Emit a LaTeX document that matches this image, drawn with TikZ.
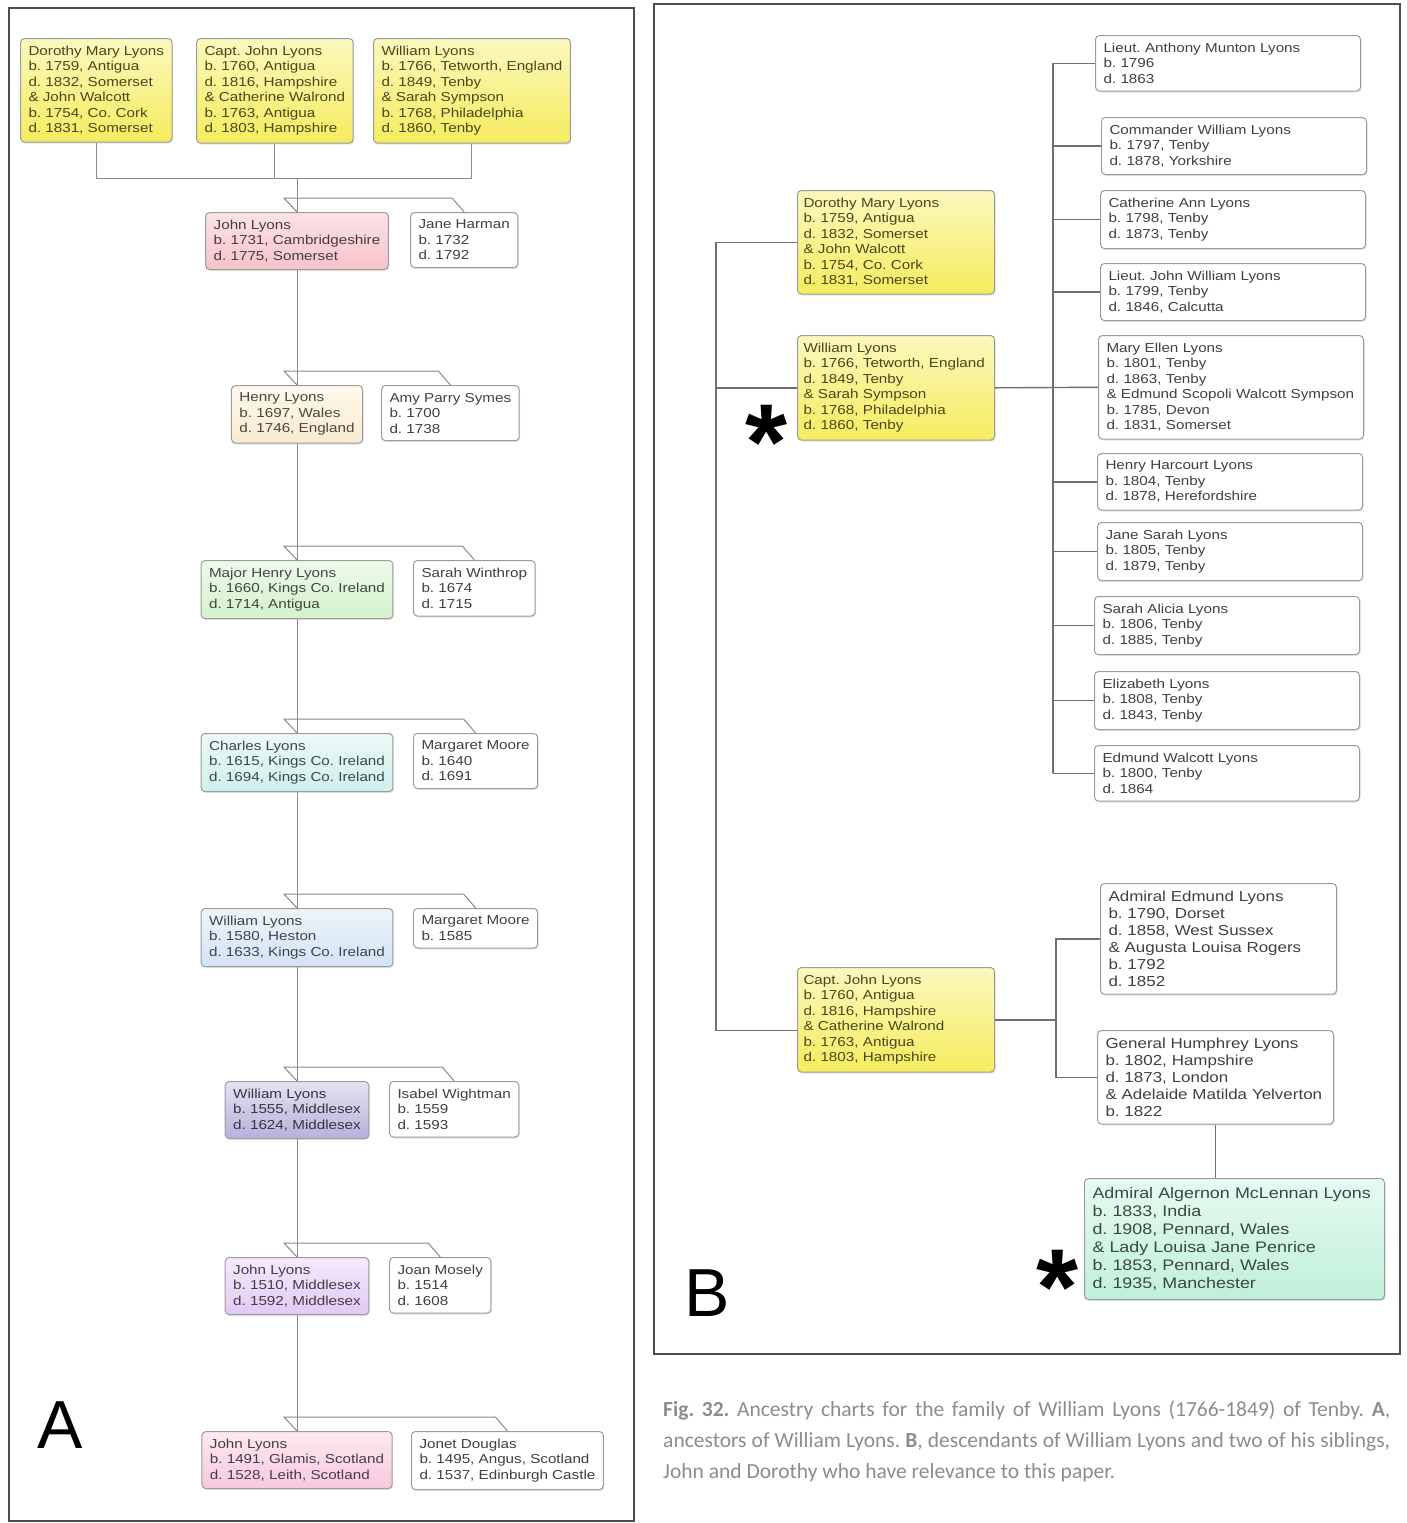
\documentclass[tikz,border=0pt]{standalone}
\usepackage{fontspec}
\setmainfont{Liberation Sans}
\newfontfamily\chartfont[FakeStretch=1.17]{Liberation Sans}
\newfontfamily\capfont{Carlito}
\usetikzlibrary{shadows}

\definecolor{boxline}{HTML}{9C9C9C}
\definecolor{treeA}{HTML}{8A8A8A}
\definecolor{treeB}{HTML}{707070}
\definecolor{framegray}{HTML}{4D4D4D}
\definecolor{captext}{HTML}{8C8C8C}
\definecolor{ylwtop}{HTML}{FBF8BE}\definecolor{ylwbot}{HTML}{F5EC5E}
\definecolor{pnktop}{HTML}{FBE3E6}\definecolor{pnkbot}{HTML}{F7C3CA}
\definecolor{crmtop}{HTML}{FEF8EE}\definecolor{crmbot}{HTML}{FAEBD0}
\definecolor{grntop}{HTML}{EEFAEA}\definecolor{grnbot}{HTML}{D5F1CB}
\definecolor{cyntop}{HTML}{ECF9F7}\definecolor{cynbot}{HTML}{CFF0EC}
\definecolor{blutop}{HTML}{EEF4FB}\definecolor{blubot}{HTML}{D2E3F5}
\definecolor{lavtop}{HTML}{E4E2F3}\definecolor{lavbot}{HTML}{B5B1DA}
\definecolor{prptop}{HTML}{F4EAFC}\definecolor{prpbot}{HTML}{E2C9F4}
\definecolor{rsetop}{HTML}{FDEAF2}\definecolor{rsebot}{HTML}{F7C8DC}
\definecolor{mnttop}{HTML}{E6FAF1}\definecolor{mntbot}{HTML}{C0F0DA}

\frenchspacing
\begin{document}
\begin{tikzpicture}
                [
                x=1pt,y=-1pt,
                person/.style={draw=boxline,line width=1pt,rounded corners=4pt,fill=white,
                  align=left,anchor=north west,inner xsep=8pt,inner ysep=7.5pt,
                  text=black!75,font=\chartfont\fontsize{13}{15.5}\selectfont,
                  drop shadow={shadow xshift=1pt,shadow yshift=-1.5pt,opacity=0.2}},
                heir/.style={person,anchor=north},
                tint/.style 2 args={top color=#1,bottom color=#2,text=#2!30!black},
                kid/.style={person,text width=249pt},
                bigkid/.style={person,text width=220pt,font=\chartfont\fontsize{14.5}{17}\selectfont},
                sibling/.style={person,tint={ylwtop}{ylwbot},text width=185pt,inner xsep=6pt},
                treeA/.style={draw=treeA,line width=1pt},
                treeB/.style={draw=treeB,line width=1.4pt},
                frame/.style={draw=framegray,line width=2.6pt},
                panel/.style={font=\fontsize{68}{68}\selectfont},
                star/.style={font=\bfseries\fontsize{108}{108}\selectfont,inner sep=0pt,anchor=north}
                ]
            \useasboundingbox[fill=white] (0,0) rectangle (1407,1523);
            \draw[frame] (9,8) rectangle (634,1521);
            \draw[frame] (654,4) rectangle (1400,1354);

            % A: ancestors
            \node[person,tint={ylwtop}{ylwbot}] (dorothyA) at (20,38) {Dorothy Mary Lyons\\b. 1759, Antigua\\d. 1832, Somerset\\\& John Walcott\\b. 1754, Co. Cork\\d. 1831, Somerset};
            \node[person,tint={ylwtop}{ylwbot}] (johnA) at (196,38) {Capt. John Lyons\\b. 1760, Antigua\\d. 1816, Hampshire\\\& Catherine Walrond\\b. 1763, Antigua\\d. 1803, Hampshire};
            \node[person,tint={ylwtop}{ylwbot}] (williamA) at (373,38) {William Lyons\\b. 1766, Tetworth, England\\d. 1849, Tenby\\\& Sarah Sympson\\b. 1768, Philadelphia\\d. 1860, Tenby};

            \node[heir,tint={pnktop}{pnkbot}] (john1731) at (297,212) {John Lyons\\b. 1731, Cambridgeshire\\d. 1775, Somerset};
            \node[person] (jane) at (410,212) {Jane Harman\\b. 1732\\d. 1792};
            \node[heir,tint={crmtop}{crmbot}] (henry) at (297,385) {Henry Lyons\\b. 1697, Wales\\d. 1746, England};
            \node[person] (amy) at (381,385) {Amy Parry Symes\\b. 1700\\d. 1738};
            \node[heir,tint={grntop}{grnbot}] (majorhenry) at (297,560) {Major Henry Lyons\\b. 1660, Kings Co. Ireland\\d. 1714, Antigua};
            \node[person] (sarahW) at (413,560) {Sarah Winthrop\\b. 1674\\d. 1715};
            \node[heir,tint={cyntop}{cynbot}] (charles) at (297,733) {Charles Lyons\\b. 1615, Kings Co. Ireland\\d. 1694, Kings Co. Ireland};
            \node[person] (margaret1) at (413,733) {Margaret Moore\\b. 1640\\d. 1691};
            \node[heir,tint={blutop}{blubot}] (william1580) at (297,908) {William Lyons\\b. 1580, Heston\\d. 1633, Kings Co. Ireland};
            \node[person] (margaret2) at (413,908) {Margaret Moore\\b. 1585};
            \node[heir,tint={lavtop}{lavbot}] (william1555) at (297,1081) {William Lyons\\b. 1555, Middlesex\\d. 1624, Middlesex};
            \node[person] (isabel) at (389,1081) {Isabel Wightman\\b. 1559\\d. 1593};
            \node[heir,tint={prptop}{prpbot}] (john1510) at (297,1257) {John Lyons\\b. 1510, Middlesex\\d. 1592, Middlesex};
            \node[person] (joan) at (389,1257) {Joan Mosely\\b. 1514\\d. 1608};
            \node[heir,tint={rsetop}{rsebot}] (john1491) at (297,1431) {John Lyons\\b. 1491, Glamis, Scotland\\d. 1528, Leith, Scotland};
            \node[person] (jonet) at (411,1431) {Jonet Douglas\\b. 1495, Angus, Scotland\\d. 1537, Edinburgh Castle};

            \coordinate (sibs) at (297,178);
            \draw[treeA] (dorothyA.south) |- (sibs) -- (john1731.north);
            \draw[treeA] (sibs) -| (williamA.south);
            \draw[treeA] (johnA.south) -- (johnA.south |- sibs);
            \foreach \up/\down in {john1731/henry,henry/majorhenry,majorhenry/charles,charles/william1580,
                                   william1580/william1555,william1555/john1510,john1510/john1491}
                \draw[treeA] (\up.south) -- (\down.north);
            \foreach \man/\wife in {john1731/jane,henry/amy,majorhenry/sarahW,charles/margaret1,
                                    william1580/margaret2,william1555/isabel,john1510/joan,john1491/jonet}
                \draw[treeA] (\man.north) -- ++(-13,-14) -- ([xshift=-12pt,yshift=14pt]\wife.north) -- (\wife.north);

            % B: descendants
            \node[sibling] (dorothyB) at (797,190) {Dorothy Mary Lyons\\b. 1759, Antigua\\d. 1832, Somerset\\\& John Walcott\\b. 1754, Co. Cork\\d. 1831, Somerset};
            \node[sibling] (williamB) at (797,335) {William Lyons\\b. 1766, Tetworth, England\\d. 1849, Tenby\\\& Sarah Sympson\\b. 1768, Philadelphia\\d. 1860, Tenby};
            \node[sibling] (johnB) at (797,967) {Capt. John Lyons\\b. 1760, Antigua\\d. 1816, Hampshire\\\& Catherine Walrond\\b. 1763, Antigua\\d. 1803, Hampshire};

            \node[kid] (anthony) at (1095,35) {Lieut. Anthony Munton Lyons\\b. 1796\\d. 1863};
            \node[kid] (commander) at (1101,117) {Commander William Lyons\\b. 1797, Tenby\\d. 1878, Yorkshire};
            \node[kid] (catherine) at (1100,190) {Catherine Ann Lyons\\b. 1798, Tenby\\d. 1873, Tenby};
            \node[kid] (johnW) at (1100,263) {Lieut. John William Lyons\\b. 1799, Tenby\\d. 1846, Calcutta};
            \node[kid] (maryellen) at (1098,335) {Mary Ellen Lyons\\b. 1801, Tenby\\d. 1863, Tenby\\\& Edmund Scopoli Walcott Sympson\\b. 1785, Devon\\d. 1831, Somerset};
            \node[kid] (henryH) at (1097,453) {Henry Harcourt Lyons\\b. 1804, Tenby\\d. 1878, Herefordshire};
            \node[kid] (janeS) at (1097,522) {Jane Sarah Lyons\\b. 1805, Tenby\\d. 1879, Tenby};
            \node[kid] (sarahA) at (1094,596) {Sarah Alicia Lyons\\b. 1806, Tenby\\d. 1885, Tenby};
            \node[kid] (elizabeth) at (1094,671) {Elizabeth Lyons\\b. 1808, Tenby\\d. 1843, Tenby};
            \node[kid] (edmundW) at (1094,745) {Edmund Walcott Lyons\\b. 1800, Tenby\\d. 1864};

            \node[bigkid] (edmundL) at (1100,883) {Admiral Edmund Lyons\\b. 1790, Dorset\\d. 1858, West Sussex\\\& Augusta Louisa Rogers\\b. 1792\\d. 1852};
            \node[bigkid] (humphrey) at (1097,1030) {General Humphrey Lyons\\b. 1802, Hampshire\\d. 1873, London\\\& Adelaide Matilda Yelverton\\b. 1822};
            \node[person,tint={mnttop}{mntbot},text width=284pt,inner ysep=9pt,
                  font=\chartfont\fontsize{15.3}{18}\selectfont] (algernon) at (1084,1178)
                  {Admiral Algernon McLennan Lyons\\b. 1833, India\\d. 1908, Pennard, Wales\\\& Lady Louisa Jane Penrice\\b. 1853, Pennard, Wales\\d. 1935, Manchester};

            \coordinate (bbus) at ([xshift=-81pt]dorothyB.west);
            \draw[treeB] (dorothyB.west) -- (bbus) |- ([yshift=-10.5pt]johnB.west);
            \draw[treeB] (williamB.west) -- (williamB.west -| bbus);

            \coordinate (wbus) at ([xshift=-42pt]anthony.west);
            \draw[treeB] (williamB.east) -- (maryellen.west);
            \draw[treeB] (wbus) -- (wbus |- edmundW.west);
            \foreach \kid in {anthony,commander,catherine,johnW,henryH,janeS,sarahA,elizabeth,edmundW}
                \draw[treeB] (\kid.west) -- (\kid.west -| wbus);

            \draw[treeB] (johnB.east) -- ++(61,0) coordinate (jbus);
            \draw[treeB] (edmundL.west) -| (jbus) |- (humphrey.west);
            \draw[treeB] (humphrey.south) -- (humphrey.south |- algernon.north);

            % panel letters and marks
            \node[panel] (labelA) at (60,1425) {A};
            \node[panel] (labelB) at (707,1293) {B};
            \node[star] (starW) at (767,405) {*};
            \node[star] (starA) at (1058,1250) {*};

            \node[anchor=north west,text width=727pt,inner sep=0pt,text=captext,
                  font=\capfont\fontsize{21.5}{31}\selectfont] (caption) at (663,1401)
                {\spaceskip=4.9pt plus 8pt minus 1pt\relax
                 \makebox[727pt][s]{\textbf{Fig. 32.} Ancestry charts for the family of William Lyons (1766-1849) of Tenby. \textbf{A},}\\
                 \makebox[727pt][s]{ancestors of William Lyons. \textbf{B}, descendants of William Lyons and two of his siblings,}\\
                 John and Dorothy who have relevance to this paper.};
\end{tikzpicture}
\end{document}
